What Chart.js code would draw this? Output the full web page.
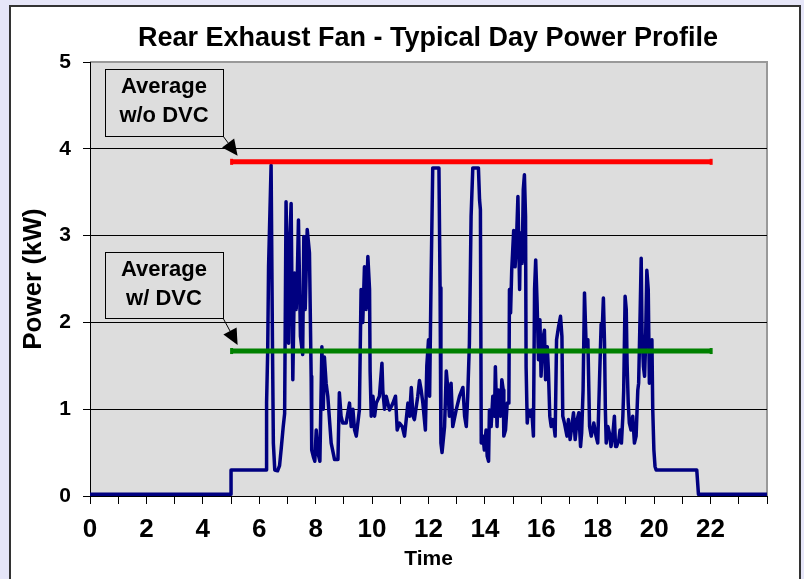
<!DOCTYPE html>
<html>
<head>
<meta charset="utf-8">
<script src="https://cdn.jsdelivr.net/npm/chart.js@4.4.1/dist/chart.umd.min.js"></script>
<style>
  html, body { margin: 0; padding: 0; width: 804px; height: 579px; overflow: hidden; background: #e6e6f8; }
  #frame { position: absolute; left: 9px; top: 5px; width: 788px; height: 620px; border: 2px solid #333; background: #fff; }
  #chart { position: absolute; left: 0; top: 0; }
</style>
</head>
<body>
<div id="frame"></div>
<canvas id="chart" width="804" height="579"></canvas>
<script>
const titleText = "Rear Exhaust Fan - Typical Day Power Profile";

const hours = [
  0, 5.0, 5.0, 6.24, 6.26, 6.30, 6.33, 6.42, 6.47, 6.50, 6.55, 6.65, 6.72, 6.78, 6.85, 6.90,
  6.95, 7.04, 7.08, 7.13, 7.19, 7.25, 7.31, 7.35, 7.39, 7.46, 7.54, 7.58, 7.63, 7.70, 7.78, 7.84, 7.86, 7.92,
  7.97, 8.02, 8.08, 8.15, 8.22, 8.27, 8.31, 8.37, 8.43, 8.55, 8.67, 8.79, 8.84, 8.90, 8.96, 9.08,
  9.20, 9.26, 9.32, 9.38, 9.44, 9.55, 9.61, 9.67, 9.73, 9.79, 9.85, 9.91, 9.93, 9.97, 10.03, 10.09,
  10.15, 10.26, 10.35, 10.38, 10.44, 10.50, 10.62, 10.74, 10.83, 10.89, 10.97, 11.07, 11.15, 11.27, 11.33, 11.39,
  11.45, 11.50, 11.62, 11.68, 11.74, 11.80, 11.89, 11.94, 12.00, 12.04, 12.09, 12.15, 12.37, 12.41, 12.44, 12.48,
  12.57, 12.63, 12.69, 12.74, 12.80, 12.86, 12.98, 13.10, 13.22, 13.28, 13.34, 13.39, 13.45, 13.51, 13.57, 13.77,
  13.81, 13.84, 13.87, 13.93, 13.98, 14.04, 14.08, 14.13, 14.16, 14.22, 14.28, 14.34, 14.37, 14.43, 14.48, 14.55,
  14.60, 14.65, 14.67, 14.73, 14.79, 14.85, 14.87, 14.91, 14.95, 15.02, 15.07, 15.12, 15.17, 15.23, 15.26, 15.32,
  15.36, 15.40, 15.44, 15.46, 15.50, 15.54, 15.62, 15.66, 15.72, 15.76, 15.80, 15.85, 15.90, 15.95, 15.99, 16.05,
  16.11, 16.15, 16.21, 16.25, 16.30, 16.35, 16.42, 16.49, 16.54, 16.61, 16.68, 16.73, 16.76, 16.82, 16.91, 16.96,
  17.02, 17.08, 17.14, 17.20, 17.27, 17.33, 17.39, 17.43, 17.48, 17.53, 17.59, 17.65, 17.71, 17.77, 17.86, 17.94,
  18.00, 18.06, 18.12, 18.15, 18.20, 18.24, 18.27, 18.30, 18.36, 18.41, 18.47, 18.53, 18.59, 18.63, 18.67, 18.75,
  18.79, 18.84, 18.89, 18.92, 18.97, 19.01, 19.04, 19.08, 19.12, 19.18, 19.24, 19.30, 19.36, 19.42, 19.45, 19.50,
  19.54, 19.57, 19.62, 19.66, 19.69, 19.74, 19.79, 19.83, 19.87, 19.92, 19.95, 19.99, 20.03, 20.07, 21.51, 21.57,
  24
];
const power = [
  0.02, 0.02, 0.30, 0.30, 1.07, 1.68, 2.64, 3.81, 1.70, 0.61, 0.30, 0.29, 0.35, 0.55, 0.80, 0.95,
  3.39, 1.76, 2.90, 3.37, 1.34, 2.57, 2.15, 2.55, 3.18, 1.84, 1.63, 2.99, 2.15, 3.07, 2.80, 1.38, 0.53, 0.45,
  0.40, 0.76, 0.50, 0.40, 1.72, 1.00, 1.60, 1.30, 1.15, 0.61, 0.42, 0.42, 1.19, 0.92, 0.84, 0.84,
  1.07, 0.80, 1.00, 0.76, 0.69, 0.99, 2.38, 2.00, 2.64, 2.15, 2.76, 2.38, 1.44, 0.92, 1.15, 0.92,
  1.07, 1.15, 1.53, 1.22, 1.00, 1.15, 0.99, 1.07, 1.15, 0.76, 0.84, 0.80, 0.69, 1.07, 0.92, 1.25,
  0.92, 0.88, 1.15, 1.33, 1.22, 1.07, 0.76, 1.50, 1.80, 1.15, 2.45, 3.78, 3.78, 2.40, 0.61, 0.50,
  0.80, 1.44, 1.22, 0.92, 1.30, 0.80, 0.99, 1.15, 1.25, 0.92, 0.80, 1.15, 1.76, 3.22, 3.78, 3.78,
  3.41, 3.30, 0.61, 0.69, 0.53, 0.76, 0.46, 0.40, 0.99, 0.80, 1.15, 0.92, 1.49, 0.80, 1.22, 0.92,
  1.34, 1.22, 0.69, 0.76, 1.07, 1.07, 2.38, 2.11, 2.60, 3.06, 2.64, 2.95, 3.45, 2.38, 3.03, 2.68,
  3.53, 3.70, 3.22, 1.49, 0.84, 0.99, 0.92, 0.99, 0.69, 2.38, 2.72, 2.22, 1.57, 2.03, 1.38, 1.80,
  1.91, 1.34, 1.72, 1.45, 0.92, 0.80, 0.88, 0.69, 1.80, 1.95, 2.07, 1.84, 0.92, 0.84, 0.69, 0.88,
  0.65, 0.80, 0.96, 0.65, 0.88, 0.96, 0.57, 0.73, 1.22, 2.34, 1.72, 1.80, 0.80, 0.69, 0.84, 0.69,
  0.61, 1.30, 1.98, 1.84, 2.28, 1.76, 0.99, 0.61, 0.80, 0.73, 0.57, 0.69, 0.92, 0.57, 0.57, 0.65,
  0.76, 0.61, 0.92, 1.22, 2.30, 2.15, 1.53, 1.07, 0.84, 0.76, 0.92, 0.61, 0.69, 1.22, 1.30, 2.07,
  2.74, 1.88, 1.49, 1.38, 1.69, 2.60, 2.38, 1.30, 1.69, 1.80, 0.99, 0.53, 0.34, 0.30, 0.30, 0.02,
  0.02
];

// averages drawn over the occupied period
const avgSpan = [5.02, 22.02];
const avgWithoutDVC = 3.85;
const avgWithDVC = 1.67;

const yTicks = [0, 1, 2, 3, 4, 5];
const xMin = 0, xMax = 24;

const FONT = '"Liberation Sans", Arial, sans-serif';

const plotBackground = {
  id: "plotBackground",
  beforeDraw(chart) {
    const { ctx, chartArea: a } = chart;
    ctx.save();
    ctx.fillStyle = "#dddddd";
    ctx.fillRect(a.left, a.top, a.right - a.left, a.bottom - a.top);
    ctx.strokeStyle = "#999999";
    ctx.lineWidth = 2;
    ctx.beginPath();
    ctx.moveTo(a.left, a.top);
    ctx.lineTo(a.right, a.top);
    ctx.lineTo(a.right, a.bottom);
    ctx.stroke();
    ctx.restore();
  }
};

function arrow(ctx, x1, y1, x2, y2) {
  const ang = Math.atan2(y2 - y1, x2 - x1);
  const len = 16, half = 7.5;
  const bx = x2 - len * Math.cos(ang), by = y2 - len * Math.sin(ang);
  ctx.beginPath();
  ctx.moveTo(x1, y1);
  ctx.lineTo(bx, by);
  ctx.stroke();
  ctx.beginPath();
  ctx.moveTo(x2, y2);
  ctx.lineTo(bx + half * Math.sin(ang), by - half * Math.cos(ang));
  ctx.lineTo(bx - half * Math.sin(ang), by + half * Math.cos(ang));
  ctx.closePath();
  ctx.fill();
}

function labelBox(ctx, x, y, w, h, lines) {
  ctx.fillStyle = "#dddddd";
  ctx.fillRect(x, y, w, h);
  ctx.strokeStyle = "#000";
  ctx.lineWidth = 1;
  ctx.strokeRect(x + 0.5, y + 0.5, w, h);
  ctx.fillStyle = "#000";
  ctx.font = "bold 22px " + FONT;
  ctx.textAlign = "center";
  ctx.textBaseline = "middle";
  ctx.fillText(lines[0], x + w / 2, y + 18);
  ctx.fillText(lines[1], x + w / 2, y + 47);
}

const annotations = {
  id: "annotations",
  afterDraw(chart) {
    const { ctx, scales: { x, y } } = chart;
    ctx.save();
    // title
    ctx.fillStyle = "#000";
    ctx.font = "bold 27px " + FONT;
    ctx.textAlign = "center";
    ctx.textBaseline = "alphabetic";
    ctx.fillText(titleText, 428, 46);

    const tipX = x.getPixelForValue(avgSpan[0]) + 6;
    const tip1 = y.getPixelForValue(avgWithoutDVC) - 6;
    const tip2 = y.getPixelForValue(avgWithDVC) - 6;

    labelBox(ctx, 105, 69, 118, 67, ["Average", "w/o DVC"]);
    labelBox(ctx, 105, 252, 118, 66, ["Average", "w/ DVC"]);

    ctx.strokeStyle = "#000";
    ctx.fillStyle = "#000";
    ctx.lineWidth = 1;
    arrow(ctx, 223, 136, tipX, tip1);
    arrow(ctx, 223, 318, tipX, tip2);
    ctx.restore();
  }
};

const ctx = document.getElementById("chart");
new Chart(ctx, {
  type: "line",
  data: {
    datasets: [
      {
        label: "Average w/o DVC",
        data: avgSpan.map((h) => ({ x: h, y: avgWithoutDVC })),
        borderColor: "#ff0000",
        backgroundColor: "#ff0000",
        borderWidth: 5,
        pointStyle: "line",
        pointRotation: 90,
        pointRadius: 3,
        pointBorderWidth: 3,
        order: 0
      },
      {
        label: "Average w/ DVC",
        data: avgSpan.map((h) => ({ x: h, y: avgWithDVC })),
        borderColor: "#008000",
        backgroundColor: "#008000",
        borderWidth: 5,
        pointStyle: "line",
        pointRotation: 90,
        pointRadius: 3,
        pointBorderWidth: 3,
        order: 0
      },
      {
        label: "Power",
        data: hours.map((h, i) => ({ x: h, y: power[i] })),
        borderColor: "#000080",
        borderWidth: 3.5,
        borderJoinStyle: "round",
        pointRadius: 0,
        tension: 0,
        order: 1
      }
    ]
  },
  options: {
    responsive: false,
    animation: false,
    events: [],
    layout: { padding: { top: 62, right: 37, bottom: 0, left: 0 } },
    plugins: {
      legend: { display: false },
      title: { display: false },
      tooltip: { enabled: false }
    },
    scales: {
      x: {
        type: "linear",
        min: xMin,
        max: xMax,
        afterFit: (s) => { s.height = 83; },
        ticks: {
          stepSize: 1,
          autoSkip: false,
          maxRotation: 0,
          minRotation: 0,
          padding: 10,
          color: "#000",
          font: { family: FONT, size: 26, weight: "bold" },
          callback: (v) => (v % 2 === 0 && v <= 22 ? v : "")
        },
        grid: { drawOnChartArea: false, drawTicks: true, tickLength: 8, tickColor: "#000" },
        border: { display: true, color: "#000", width: 1 },
        title: {
          display: true,
          text: "Time",
          color: "#000",
          font: { family: FONT, size: 21, weight: "bold" },
          padding: { top: 0, bottom: 7 }
        }
      },
      y: {
        min: yTicks[0],
        max: yTicks[yTicks.length - 1],
        afterFit: (s) => { s.width = 90; },
        ticks: {
          stepSize: 1,
          padding: 12,
          color: "#000",
          font: { family: FONT, size: 21, weight: "bold" }
        },
        grid: {
          color: (c) => (c.tick && c.tick.value === 5 ? "rgba(0,0,0,0)" : "#000"),
          tickColor: "#000",
          tickLength: 7,
          lineWidth: 1
        },
        border: { display: true, color: "#000", width: 1 },
        title: {
          display: true,
          text: "Power (kW)",
          color: "#000",
          font: { family: FONT, size: 26, weight: "bold" },
          padding: { top: 18, bottom: 0 }
        }
      }
    }
  },
  plugins: [plotBackground, annotations]
});
</script>
</body>
</html>
